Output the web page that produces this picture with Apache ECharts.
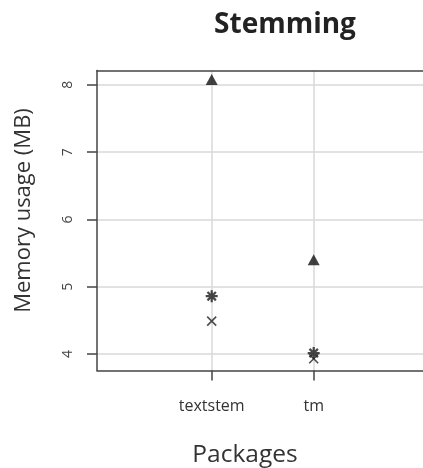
<!DOCTYPE html>
<html><head><meta charset="utf-8">
<script src="https://cdn.jsdelivr.net/npm/echarts@6/dist/echarts.min.js"></script>
<style>html,body{margin:0;padding:0;background:#fff}#c{width:423px;height:468px}</style>
</head><body><div id="c"></div>
<script>
const packages = ['textstem', 'tm'];
const packagePos = [1, 2];
const triangleVals = [8.08, 5.40];
const asteriskVals = [4.86, 4.015];
const crossVals = [4.49, 3.93];
const yTicks = [4, 5, 6, 7, 8];

const FONT = '"Open Sans"';
const asteriskPath = 'path://M5 0L5 10M0 5L10 5M1.5 1.5L8.5 8.5M8.5 1.5L1.5 8.5';
const crossPath = 'path://M0 0L10 10M10 0L0 10';
const GRID_COLOR = '#d9d9d9';
const AXIS_COLOR = '#444';
const X_MIN = -0.1245, X_MAX = 3.0716;

function pts(vals) { return vals.map((v, i) => [packagePos[i], v]); }

const chart = echarts.init(document.getElementById('c'), null, {renderer: 'canvas'});
chart.setOption({
  animation: false,
  backgroundColor: '#fff',
  title: {
    text: 'Stemming', left: 280, top: 6, textAlign: 'center',
    textStyle: {fontFamily: FONT, fontWeight: 'bold', fontSize: 28, color: '#222'}
  },
  grid: {left: 97, right: 0, top: 70.5, bottom: 97.5, show: false, containLabel: false, outerBoundsMode: 'none'},
  xAxis: [{
    type: 'value', min: X_MIN, max: X_MAX,
    name: 'Packages', nameLocation: 'middle', nameGap: 72,
    nameTextStyle: {fontFamily: FONT, fontSize: 24.5, color: '#333', padding: [0, 30, 0, 0]},
    axisLine: {show: true, onZero: false, lineStyle: {color: AXIS_COLOR, width: 1.5}},
    axisTick: {show: true, customValues: packagePos, length: 10, lineStyle: {color: AXIS_COLOR, width: 1.5}},
    axisLabel: {customValues: packagePos, margin: 28, fontFamily: FONT, fontSize: 16, color: '#333',
      formatter: v => packages[packagePos.indexOf(Math.round(v))] || ''},
    splitLine: {show: false}
  }, {
    type: 'value', position: 'top', min: X_MIN, max: X_MAX,
    axisLine: {show: true, onZero: false, lineStyle: {color: AXIS_COLOR, width: 1.5}},
    axisTick: {show: false}, axisLabel: {show: false}, splitLine: {show: false}
  }],
  yAxis: {
    type: 'value', min: 3.756, max: 8.213,
    name: 'Memory usage (MB)', nameLocation: 'middle', nameGap: 62, nameRotate: 90,
    nameTextStyle: {fontFamily: FONT, fontSize: 22, color: '#333', padding: [0, 0, 0, 20]},
    axisLine: {show: true, onZero: false, lineStyle: {color: AXIS_COLOR, width: 1.5}},
    axisTick: {show: true, customValues: yTicks, length: 10, lineStyle: {color: AXIS_COLOR, width: 1.5}},
    axisLabel: {customValues: yTicks, rotate: 90, margin: 22, fontFamily: FONT, fontSize: 14, color: '#444'},
    splitLine: {show: true, lineStyle: {color: GRID_COLOR, width: 1.5}}
  },
  series: [
    {name: 'gridlines', type: 'scatter', data: [], z: 1, silent: true,
     markLine: {silent: true, z: 0, symbol: 'none', label: {show: false}, animation: false,
       lineStyle: {color: GRID_COLOR, width: 1.5, type: 'solid'},
       emphasis: {disabled: true},
       data: packagePos.map(p => ({xAxis: p}))}},
    {name: 'triangle', type: 'scatter', symbol: 'triangle', symbolSize: [12, 11], z: 5,
     itemStyle: {color: '#111'}, data: pts(triangleVals)},
    {name: 'asterisk', type: 'scatter', symbol: asteriskPath, symbolSize: 12, z: 5,
     itemStyle: {color: 'rgba(0,0,0,0)', borderColor: '#1a1a1a', borderWidth: 2.2}, data: pts(asteriskVals)},
    {name: 'cross', type: 'scatter', symbol: crossPath, symbolSize: 9, z: 5,
     itemStyle: {color: 'rgba(0,0,0,0)', borderColor: '#222', borderWidth: 1.6}, data: pts(crossVals)}
  ]
});
</script></body></html>
